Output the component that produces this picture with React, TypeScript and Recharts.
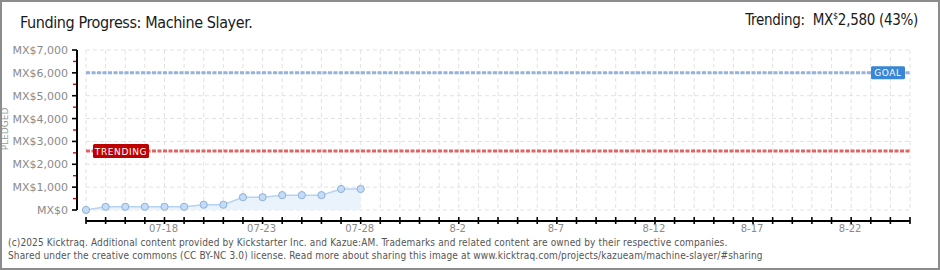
import React from 'react';
import { ComposedChart, Area, XAxis, YAxis, CartesianGrid, ReferenceLine } from 'recharts';

// pledged totals per day (07-14 .. 07-28)
const dates = ['07-14', '07-15', '07-16', '07-17', '07-18', '07-19', '07-20', '07-21', '07-22', '07-23', '07-24', '07-25', '07-26', '07-27', '07-28'];
const pledged = [0, 140, 140, 140, 140, 140, 230, 230, 560, 560, 650, 650, 650, 920, 920];

const goal = 6000;
const trending = 2580;

// x axis runs 07-14 .. 08-25, one tick per day
const lastDay = 42;
const dayTicks = Array.from({ length: lastDay + 1 }, (_, i) => i);
const labelDays = [4, 9, 14, 19, 24, 29, 34, 39];
const labelText = ['07-18', '07-23', '07-28', '8-2', '8-7', '8-12', '8-17', '8-22'];

const yTicks = [0, 500, 1000, 1500, 2000, 2500, 3000, 3500, 4000, 4500, 5000, 5500, 6000, 6500, 7000];
const yGrid = [0, 1000, 2000, 3000, 4000, 5000, 6000, 7000];

const data = dates.map((d, i) => ({ day: i, date: d, pledged: pledged[i] }));

const FONT = "'DejaVu Sans Condensed', 'DejaVu Sans', sans-serif";

const YTick = (props: any) => {
  const { x, y, payload } = props;
  const major = payload.value % 1000 === 0;
  return (
    <g>
      {major ? (
        <line x1={x - 14} x2={x - 9} y1={y} y2={y} stroke="#000" strokeWidth={1.6} />
      ) : (
        <line x1={x - 13} x2={x - 10} y1={y} y2={y} stroke="#e00000" strokeWidth={1.4} />
      )}
      {major && (
        <text x={x - 18} y={y} dy={4} textAnchor="end" fill="#8a8a8a" fontSize={11} fontFamily="'DejaVu Sans', sans-serif">
          {'MX$' + payload.value.toLocaleString('en-US')}
        </text>
      )}
    </g>
  );
};

const XTick = (props: any) => {
  const { x, y, payload } = props;
  const idx = labelDays.indexOf(payload.value);
  return (
    <g>
      <line x1={x} x2={x} y1={y + 7} y2={y + 14} stroke="#000" strokeWidth={1.6} />
      {idx >= 0 && (
        <text x={x - 1} y={y + 22} textAnchor="middle" fill="#8a8a8a" fontSize={10} fontFamily="'DejaVu Sans', sans-serif">
          {labelText[idx]}
        </text>
      )}
    </g>
  );
};

const GoalLabel = (props: any) => {
  const { viewBox } = props;
  const x = viewBox.x + viewBox.width - 39;
  const y = viewBox.y;
  return (
    <g>
      <rect x={x} y={y - 6.5} width={34} height={13} rx={1.5} fill="#3a86d6" />
      <text x={x + 17} y={y + 3.5} textAnchor="middle" fill="#fff" fontSize={9} letterSpacing={0.6} fontFamily="'DejaVu Sans', sans-serif">
        GOAL
      </text>
    </g>
  );
};

const TrendingLabel = (props: any) => {
  const { viewBox } = props;
  const x = viewBox.x + 7;
  const y = viewBox.y;
  return (
    <g>
      <rect x={x} y={y - 7} width={56} height={14} rx={1.5} fill="#bf0000" />
      <text x={x + 28} y={y + 3.5} textAnchor="middle" fill="#fff" fontSize={9} letterSpacing={0.6} fontFamily="'DejaVu Sans', sans-serif">
        TRENDING
      </text>
    </g>
  );
};

export default function App() {
  return (
    <div style={{ position: 'absolute', left: 0, top: 0, width: 940, height: 270, background: '#fff', fontFamily: FONT }}>
      <div style={{ position: 'absolute', left: 20, top: 13, fontSize: 16, letterSpacing: -0.4, color: '#1a1a1a', whiteSpace: 'nowrap' }}>
        Funding Progress: Machine Slayer.
      </div>
      <div style={{ position: 'absolute', right: 22, top: 11, fontSize: 15, letterSpacing: -0.3, color: '#1a1a1a', whiteSpace: 'nowrap' }}>
        Trending:&nbsp; MX<sup style={{ fontSize: 9 }}>$</sup>2,580 (43%)
      </div>
      <div
        style={{
          position: 'absolute', left: 5, top: 129, transform: 'translate(-50%, -50%) rotate(-90deg)',
          fontSize: 9, color: '#999', fontFamily: "'DejaVu Sans', sans-serif", whiteSpace: 'nowrap',
        }}
      >
        PLEDGED
      </div>

      <div style={{ position: 'absolute', left: 0, top: 0 }}>
        <ComposedChart width={940} height={270} data={data} margin={{ top: 50, right: 30, bottom: 0, left: 0 }}>
          <CartesianGrid stroke="#e2e2e2" strokeDasharray="4 3" horizontalValues={yGrid} />
          <XAxis
            dataKey="day"
            type="number"
            domain={[0, lastDay]}
            ticks={dayTicks}
            interval={0}
            height={60}
            tickSize={0}
            tickMargin={0}
            tickLine={false}
            tick={<XTick />}
            axisLine={{ stroke: '#000', strokeWidth: 2, transform: 'translate(0,11)' }}
          />
          <YAxis
            type="number"
            domain={[0, 7000]}
            ticks={yTicks}
            interval={0}
            width={86}
            tickSize={0}
            tickMargin={0}
            tickLine={false}
            tick={<YTick />}
            axisLine={{ stroke: '#000', strokeWidth: 2, transform: 'translate(-9,0)' }}
          />
          <Area
            type="linear"
            dataKey="pledged"
            stroke="#b5d3f3"
            strokeWidth={1.5}
            fill="#eaf3fc"
            fillOpacity={1}
            dot={{ r: 3.6, fill: '#c4dcf6', stroke: '#8db1dc', strokeWidth: 1 }}
            activeDot={false}
            isAnimationActive={false}
          />
          <ReferenceLine y={goal} stroke="#93b3dc" strokeWidth={3} strokeDasharray="4 1.5" label={(p: any) => <GoalLabel {...p} />} />
          <ReferenceLine y={trending} stroke="#e06464" strokeWidth={3} strokeDasharray="4 1.5" label={(p: any) => <TrendingLabel {...p} />} />
        </ComposedChart>
      </div>

      <div style={{ position: 'absolute', left: 8, top: 236, fontSize: 10, letterSpacing: 0.14, lineHeight: '13px', color: '#555', whiteSpace: 'nowrap' }}>
        <div>(c)2025 Kicktraq. Additional content provided by Kickstarter Inc. and Kazue:AM. Trademarks and related content are owned by their respective companies.</div>
        <div>Shared under the creative commons (CC BY-NC 3.0) license. Read more about sharing this image at www.kicktraq.com/projects/kazueam/machine-slayer/#sharing</div>
      </div>

      <div style={{ position: 'absolute', left: 0, top: 0, width: 940, height: 270, boxSizing: 'border-box', border: '2px solid #8c8c8c', pointerEvents: 'none' }} />
    </div>
  );
}
